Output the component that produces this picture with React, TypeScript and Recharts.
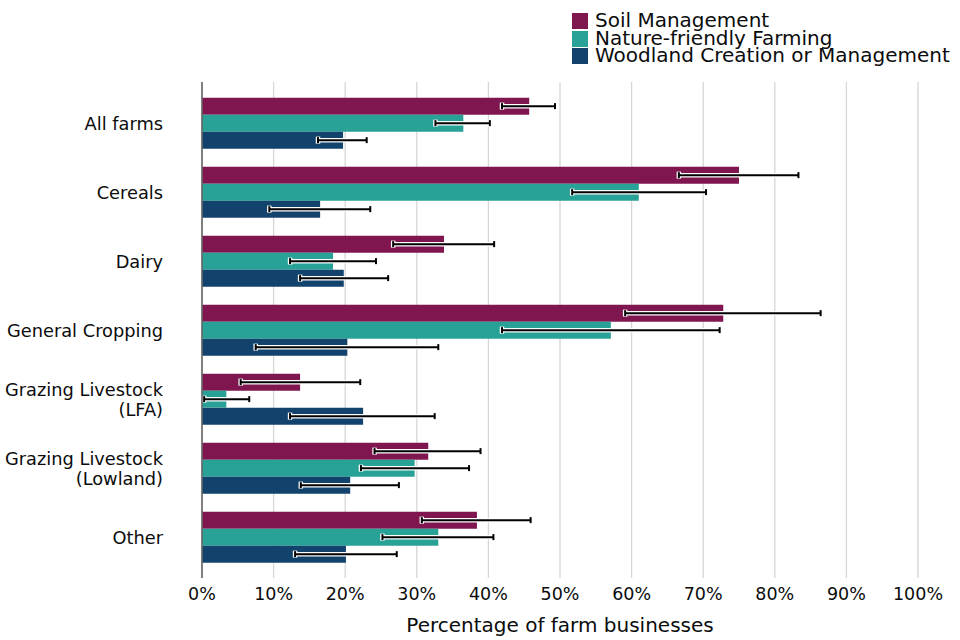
import React from 'react';
import { BarChart, Bar, XAxis, YAxis, CartesianGrid, ErrorBar, Legend } from 'recharts';

const categories = ['All farms', 'Cereals', 'Dairy', 'General Cropping', 'Grazing Livestock\n(LFA)', 'Grazing Livestock\n(Lowland)', 'Other'];
const soil = [45.7, 75.0, 33.8, 72.8, 13.7, 31.6, 38.4];
const soilLow = [41.9, 66.6, 26.7, 59.1, 5.4, 24.1, 30.7];
const soilHigh = [49.3, 83.3, 40.8, 86.4, 22.1, 38.9, 45.9];
const nature = [36.5, 61.0, 18.3, 57.1, 3.4, 29.7, 33.0];
const natureLow = [32.6, 51.7, 12.3, 41.9, 0.3, 22.2, 25.2];
const natureHigh = [40.2, 70.4, 24.3, 72.3, 6.6, 37.3, 40.7];
const wood = [19.7, 16.5, 19.8, 20.3, 22.5, 20.7, 20.1];
const woodLow = [16.2, 9.4, 13.7, 7.5, 12.3, 13.8, 13.0];
const woodHigh = [23.0, 23.5, 26.0, 33.0, 32.5, 27.5, 27.2];
const xTicks = [0, 10, 20, 30, 40, 50, 60, 70, 80, 90, 100];

const seriesNames = ['Soil Management', 'Nature-friendly Farming', 'Woodland Creation or Management'];
const colors = ['#801650', '#28A197', '#12436D'];

const data = categories.map((c, i) => ({
  name: c,
  soil: soil[i],
  soilErr: [soil[i] - soilLow[i], soilHigh[i] - soil[i]],
  nature: nature[i],
  natureErr: [nature[i] - natureLow[i], natureHigh[i] - nature[i]],
  wood: wood[i],
  woodErr: [wood[i] - woodLow[i], woodHigh[i] - wood[i]],
}));

const FONT = 'DejaVu Sans, sans-serif';
const TEXT = '#0b0c0c';

const CategoryTick = (props: any) => {
  const { x, y, payload } = props;
  const lines = String(payload.value).split('\n');
  const lh = 20.5;
  const start = -((lines.length - 1) * lh) / 2;
  return (
    <text x={x} y={y} textAnchor="end" fill={TEXT} fontSize={17.8} fontFamily={FONT}>
      {lines.map((l, i) => (
        <tspan key={i} x={x} dy={i === 0 ? start + 6.3 : lh}>{l}</tspan>
      ))}
    </text>
  );
};

const LegendContent = () => (
  <div style={{ fontFamily: FONT, fontSize: 20, color: TEXT }}>
    {seriesNames.map((n, i) => (
      <div key={n} style={{ display: 'flex', alignItems: 'center', height: 17.7, whiteSpace: 'nowrap' }}>
        <span style={{ display: 'inline-block', width: 16, height: 16, background: colors[i], marginRight: 7, flex: 'none' }} />
        <span style={{ lineHeight: '17.7px' }}>{n}</span>
      </div>
    ))}
  </div>
);

export default function App() {
  const keys = ['soil', 'nature', 'wood'];
  return (
    <div style={{ position: 'absolute', left: 0, top: 0, width: 960, height: 640, background: '#fff' }}>
      <BarChart
        width={960}
        height={640}
        data={data}
        layout="vertical"
        margin={{ top: 82, right: 42, bottom: 0, left: 0 }}
        barCategoryGap="12.5%"
        barGap={0}
      >
        <CartesianGrid horizontal={false} vertical stroke="#d6d6d6" strokeWidth={1.3} />
        <XAxis
          type="number"
          domain={[0, 100]}
          ticks={xTicks}
          tickFormatter={(v) => `${v}%`}
          axisLine={false}
          tickLine={false}
          tickSize={0}
          tickMargin={10}
          height={62}
          interval={0}
          tick={{ fill: TEXT, fontSize: 17.5, fontFamily: FONT }}
          label={{ value: 'Percentage of farm businesses', position: 'insideBottom', offset: 8, fill: TEXT, fontSize: 20, fontFamily: FONT }}
        />
        <YAxis
          type="category"
          dataKey="name"
          width={202}
          axisLine={{ stroke: '#666', strokeWidth: 1.6 }}
          tickLine={false}
          tickSize={0}
          tickMargin={39}
          padding={{ top: 7, bottom: 6 }}
          interval={0}
          tick={<CategoryTick />}
        />
        <Legend
          layout="vertical"
          align="center"
          verticalAlign="middle"
          wrapperStyle={{ top: 12, left: 572, width: 'auto' }}
          content={<LegendContent />}
        />
        {keys.map((k, i) => (
          <Bar key={k} dataKey={k} name={seriesNames[i]} fill={colors[i]} isAnimationActive={false}>
            <ErrorBar dataKey={`${k}Err`} direction="x" width={3.5} stroke="#ffffff" strokeWidth={4.5} isAnimationActive={false} />
            <ErrorBar dataKey={`${k}Err`} direction="x" width={3} stroke="#000000" strokeWidth={2} isAnimationActive={false} />
          </Bar>
        ))}
      </BarChart>
    </div>
  );
}
